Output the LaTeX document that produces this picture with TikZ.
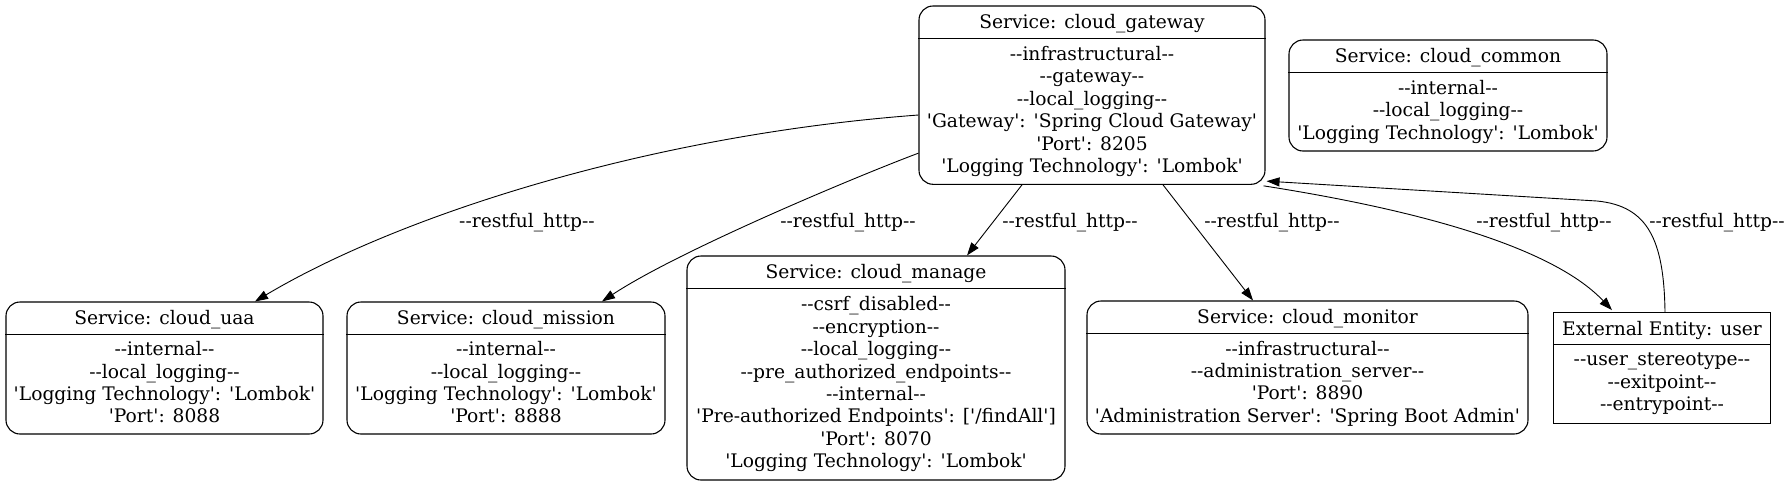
\documentclass[tikz,border=0pt]{standalone}
\usepackage{fontspec}
\newfontfamily\gvfam{DejaVu Serif}[Ligatures=TeXOff]
\newcommand\gvfont{\gvfam\fontsize{18.67pt}{22.4pt}\selectfont}
\newcommand\gvstrut{\vrule height 17.5pt depth 4.9pt width 0pt}
\usetikzlibrary{arrows.meta}
\tikzset{
  svc/.style={draw, rounded corners=14pt, inner sep=0pt, line width=1.1pt},
  ent/.style={draw, inner sep=0pt, line width=1.1pt},
  hdr/.style={line width=1.1pt},
  txt/.style={font=\gvfont, align=center, inner sep=0pt,
    execute at begin node=\gvstrut, execute at end node=\gvstrut},
  lbl/.style={font=\gvfont, inner sep=0pt, execute at begin node=\gvstrut},
  conn/.style={-{Triangle[length=13pt,width=9pt]}, line width=0.9pt},
}
\begin{document}
\begin{tikzpicture}[x=1pt,y=-1pt]
\fill[white] (0,0) rectangle (1789,485);
\useasboundingbox (0,0) rectangle (1789,485);

% --- boxes ---
\node[svc, minimum width=346pt, minimum height=178.3pt] (gw) at (1092,95.15) {};
\draw[hdr] ([yshift=-33.3pt]gw.north west) -- ([yshift=-33.3pt]gw.north east);
\node[txt] (gwt) at (1092,22.65) {Service: cloud\_gateway};
\node[txt] (gwb) at (1092,111.8) {--infrastructural--\\--gateway--\\--local\_logging--\\'Gateway': 'Spring Cloud Gateway'\\'Port': 8205\\'Logging Technology': 'Lombok'};

\node[svc, minimum width=318pt, minimum height=111pt] (com) at (1448,95.5) {};
\draw[hdr] ([yshift=-33.3pt]com.north west) -- ([yshift=-33.3pt]com.north east);
\node[txt] (comt) at (1448,56.65) {Service: cloud\_common};
\node[txt] (comb) at (1448,112.15) {--internal--\\--local\_logging--\\'Logging Technology': 'Lombok'};

\node[svc, minimum width=317pt, minimum height=132pt] (uaa) at (164.5,368) {};
\draw[hdr] ([yshift=-33.3pt]uaa.north west) -- ([yshift=-33.3pt]uaa.north east);
\node[txt] (uaat) at (164.5,318.65) {Service: cloud\_uaa};
\node[txt] (uaab) at (164.5,384.65) {--internal--\\--local\_logging--\\'Logging Technology': 'Lombok'\\'Port': 8088};

\node[svc, minimum width=318pt, minimum height=132pt] (mis) at (506,368) {};
\draw[hdr] ([yshift=-33.3pt]mis.north west) -- ([yshift=-33.3pt]mis.north east);
\node[txt] (mist) at (506,318.65) {Service: cloud\_mission};
\node[txt] (misb) at (506,384.65) {--internal--\\--local\_logging--\\'Logging Technology': 'Lombok'\\'Port': 8888};

\node[svc, minimum width=378pt, minimum height=224pt] (man) at (876,368) {};
\draw[hdr] ([yshift=-33.3pt]man.north west) -- ([yshift=-33.3pt]man.north east);
\node[txt] (mant) at (876,272.65) {Service: cloud\_manage};
\node[txt] (manb) at (876,384.65) {--csrf\_disabled--\\--encryption--\\--local\_logging--\\--pre\_authorized\_endpoints--\\--internal--\\'Pre-authorized Endpoints': ['/findAll']\\'Port': 8070\\'Logging Technology': 'Lombok'};

\node[svc, minimum width=441pt, minimum height=133pt] (mon) at (1307.5,367.5) {};
\draw[hdr] ([yshift=-33.3pt]mon.north west) -- ([yshift=-33.3pt]mon.north east);
\node[txt] (mont) at (1307.5,317.65) {Service: cloud\_monitor};
\node[txt] (monb) at (1307.5,384.15) {--infrastructural--\\--administration\_server--\\'Port': 8890\\'Administration Server': 'Spring Boot Admin'};

\node[ent, minimum width=217.4pt, minimum height=110.6pt] (usr) at (1662,368) {};
\draw[hdr] ([yshift=-32.3pt]usr.north west) -- ([yshift=-32.3pt]usr.north east);
\node[txt] (usrt) at (1662,328.85) {External Entity: user};
\node[txt] (usrb) at (1662,384.15) {--user\_stereotype--\\--exitpoint--\\--entrypoint--};

% --- connectors ---
\draw[conn] ([yshift=-19.85pt]gw.west) .. controls (650,135) and (400,215) .. ([xshift=90.5pt]uaa.north);
\draw[conn] ([yshift=-58pt]gw.west) .. controls (860,175) and (680,250) .. ([xshift=96pt]mis.north);
\draw[conn] ([xshift=-70pt]gw.south) -- ([xshift=91pt]man.north);
\draw[conn] ([xshift=71pt]gw.south) -- ([xshift=-54.5pt]mon.north);
\draw[conn] ([xshift=-2pt,yshift=-1pt]gw.south east) .. controls (1450,215) and (1560,255) .. ([xshift=-50pt,yshift=2pt]usr.north);
\draw[conn] ([xshift=3pt]usr.north) .. controls (1664,240) and (1648,206) .. (1597,201) -- ([xshift=1pt,yshift=-86pt]gw.east);

% --- labels ---
\node[lbl] (l1) at (527,221) {--restful\_http--};
\node[lbl] (l2) at (848,221) {--restful\_http--};
\node[lbl] (l3) at (1070,221) {--restful\_http--};
\node[lbl] (l4) at (1272,221) {--restful\_http--};
\node[lbl] (l5) at (1544,221) {--restful\_http--};
\node[lbl] (l6) at (1717,221) {--restful\_http--};
\end{tikzpicture}
\end{document}
